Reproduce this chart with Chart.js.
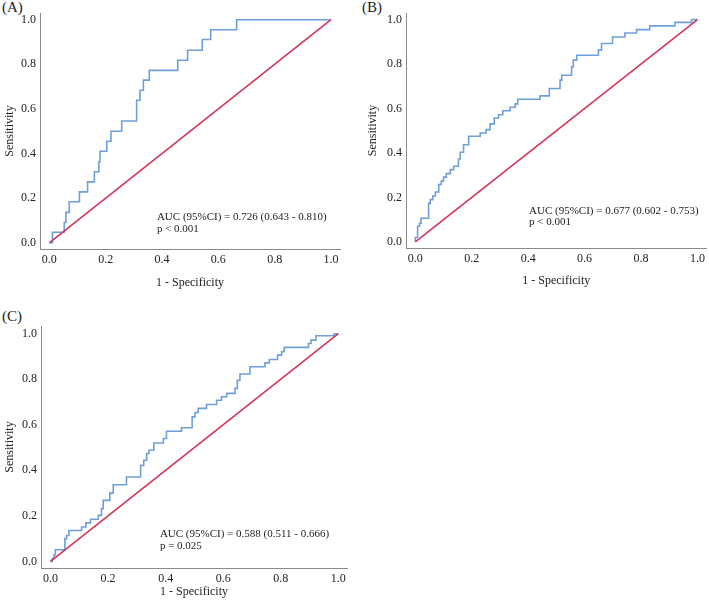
<!DOCTYPE html>
<html>
<head>
<meta charset="utf-8">
<script src="https://cdn.jsdelivr.net/npm/chart.js@4.4.1/dist/chart.umd.min.js"></script>
<style>
  body { margin:0; background:#fff; width:709px; height:608px; position:relative; overflow:hidden; font-family:"Liberation Serif", "Times New Roman", serif; }
  .lbl { position:absolute; font-size:15px; line-height:15px; color:#222; }
  canvas { position:absolute; }
</style>
</head>
<body>
<div class="lbl" style="left:2px;top:0px">(A)</div>
<div class="lbl" style="left:362px;top:0px">(B)</div>
<div class="lbl" style="left:2px;top:309px">(C)</div>
<canvas id="cA" width="350" height="300" style="left:0;top:0"></canvas>
<canvas id="cB" width="346" height="300" style="left:363px;top:0"></canvas>
<canvas id="cC" width="350" height="308" style="left:0;top:300px"></canvas>
<script>
const TICKS = [0, 0.2, 0.4, 0.6, 0.8, 1.0];
const DIAG_X = [0, 1];
const DIAG_Y = [0, 1];

const A_FPR = [0, 0.011, 0.053, 0.059, 0.071, 0.107, 0.136, 0.160, 0.176, 0.180, 0.204, 0.219, 0.257, 0.310, 0.322, 0.334, 0.355, 0.456, 0.491, 0.543, 0.573, 0.665, 1.0];
const A_TPR = [0, 0.047, 0.091, 0.136, 0.184, 0.228, 0.273, 0.318, 0.363, 0.410, 0.455, 0.500, 0.546, 0.639, 0.684, 0.729, 0.773, 0.818, 0.863, 0.911, 0.955, 1.0, 1.0];

const B_FPR = [0, 0, 0.008, 0.015, 0.02, 0.047, 0.053, 0.062, 0.071, 0.083, 0.092, 0.1, 0.11, 0.124, 0.136, 0.153, 0.159, 0.171, 0.189, 0.23, 0.251, 0.265, 0.28, 0.295, 0.31, 0.336, 0.354, 0.363, 0.442, 0.475, 0.513, 0.519, 0.554, 0.56, 0.572, 0.649, 0.66, 0.699, 0.743, 0.784, 0.831, 0.92, 0.979, 1.0];
const B_TPR = [0, 0.019, 0.07, 0.083, 0.106, 0.173, 0.19, 0.206, 0.224, 0.258, 0.273, 0.291, 0.307, 0.325, 0.34, 0.373, 0.403, 0.437, 0.475, 0.49, 0.505, 0.531, 0.557, 0.572, 0.59, 0.606, 0.621, 0.642, 0.657, 0.69, 0.728, 0.75, 0.788, 0.818, 0.84, 0.863, 0.893, 0.922, 0.94, 0.955, 0.972, 0.988, 1.0, 1.0];

const C_FPR = [0, 0.006, 0.012, 0.017, 0.05, 0.056, 0.064, 0.108, 0.123, 0.139, 0.166, 0.177, 0.183, 0.206, 0.218, 0.264, 0.313, 0.324, 0.334, 0.342, 0.359, 0.392, 0.403, 0.455, 0.492, 0.502, 0.513, 0.542, 0.577, 0.594, 0.612, 0.641, 0.649, 0.658, 0.693, 0.745, 0.76, 0.789, 0.803, 0.812, 0.896, 0.905, 0.922, 0.985, 1.0];
const C_TPR = [0, 0.012, 0.029, 0.051, 0.1, 0.114, 0.136, 0.151, 0.169, 0.185, 0.202, 0.232, 0.268, 0.3, 0.337, 0.371, 0.422, 0.444, 0.474, 0.488, 0.52, 0.54, 0.572, 0.587, 0.635, 0.654, 0.672, 0.689, 0.708, 0.723, 0.738, 0.76, 0.796, 0.823, 0.855, 0.872, 0.887, 0.906, 0.921, 0.94, 0.957, 0.972, 0.991, 1.0, 1.0];

const A_TEXT = ["AUC (95%CI) = 0.726 (0.643 - 0.810)", "p < 0.001"];
const B_TEXT = ["AUC (95%CI) = 0.677 (0.602 - 0.753)", "p < 0.001"];
const C_TEXT = ["AUC (95%CI) = 0.588 (0.511 - 0.666)", "p = 0.025"];

const FONT = "'Liberation Serif', 'Times New Roman', serif";
const TXT = "#222";
const AXIS = "#8a8a8a";

const annot = {
  id: "annot",
  afterDatasetsDraw(chart, args, o){
    const {ctx, scales:{x, y}} = chart;
    ctx.save();
    ctx.font = `11px ${FONT}`;
    ctx.fillStyle = TXT;
    ctx.textBaseline = "middle";
    const px = x.getPixelForValue(o.x), py = y.getPixelForValue(o.y);
    o.lines.forEach((t, i) => ctx.fillText(t, px, py + i * o.gap));
    ctx.restore();
  }
};

const pts = (xs, ys) => xs.map((v, i) => ({x: v, y: ys[i]}));

function panel(id, fpr, tpr, text, p){
  new Chart(document.getElementById(id), {
    type: "scatter",
    data: { datasets: [
      { data: pts(DIAG_X, DIAG_Y), showLine: true, borderColor: "#d4335a", borderWidth: 1.6, pointRadius: 0 },
      { data: pts(fpr, tpr), showLine: true, stepped: "before", borderColor: "#6d9fdc", borderWidth: 1.6, pointRadius: 0 },
    ]},
    options: {
      responsive: false, animation: false,
      layout: { padding: { top: p.top, right: p.right, bottom: 0, left: 0 } },
      plugins: { legend: { display: false }, tooltip: { enabled: false },
        annot: { x: p.ax, y: p.ay, gap: p.gap, lines: text } },
      scales: {
        x: { type: "linear", min: p.xmin, max: p.xmax,
          afterBuildTicks: s => { s.ticks = TICKS.map(v => ({value: v})); },
          afterFit: s => { s.height = p.xh; },
          grid: { display: false, drawTicks: false },
          border: { display: true, color: AXIS, width: 1 },
          ticks: { padding: 4, color: TXT, font: { family: FONT, size: 12 }, callback: v => v.toFixed(1), maxRotation: 0 },
          title: { display: true, text: "1 - Specificity", color: TXT, font: { family: FONT, size: 12 }, padding: { top: 0, bottom: p.xtb } } },
        y: { type: "linear", min: p.ymin, max: p.ymax,
          afterBuildTicks: s => { s.ticks = TICKS.map(v => ({value: v})); },
          afterFit: s => { s.width = p.yw; },
          grid: { display: false, drawTicks: false },
          border: { display: true, color: AXIS, width: 1 },
          ticks: { padding: 4, color: TXT, font: { family: FONT, size: 12 }, callback: v => v.toFixed(1) },
          title: { display: true, text: "Sensitivity", color: TXT, font: { family: FONT, size: 12 }, padding: { top: 3, bottom: 0 } } },
      },
    },
    plugins: [annot],
  });
}

panel("cA", A_FPR, A_TPR, A_TEXT, { top: 13, right: 10, yw: 40, xh: 51, xtb: 10, xmin: -0.033, xmax: 1.032, ymin: -0.028, ymax: 1.030, ax: 0.382, ay: 0.116, gap: 11.8 });
panel("cB", B_FPR, B_TPR, B_TEXT, { top: 13, right: 2, yw: 43, xh: 52, xtb: 12, xmin: -0.033, xmax: 1.032, ymin: -0.028, ymax: 1.030, ax: 0.403, ay: 0.139, gap: 11.2 });
panel("cC", C_FPR, C_TPR, C_TEXT, { top: 26, right: 3, yw: 41, xh: 40, xtb: 9, xmin: -0.033, xmax: 1.030, ymin: -0.029, ymax: 1.034, ax: 0.38, ay: 0.122, gap: 12.2 });
</script>
</body>
</html>
